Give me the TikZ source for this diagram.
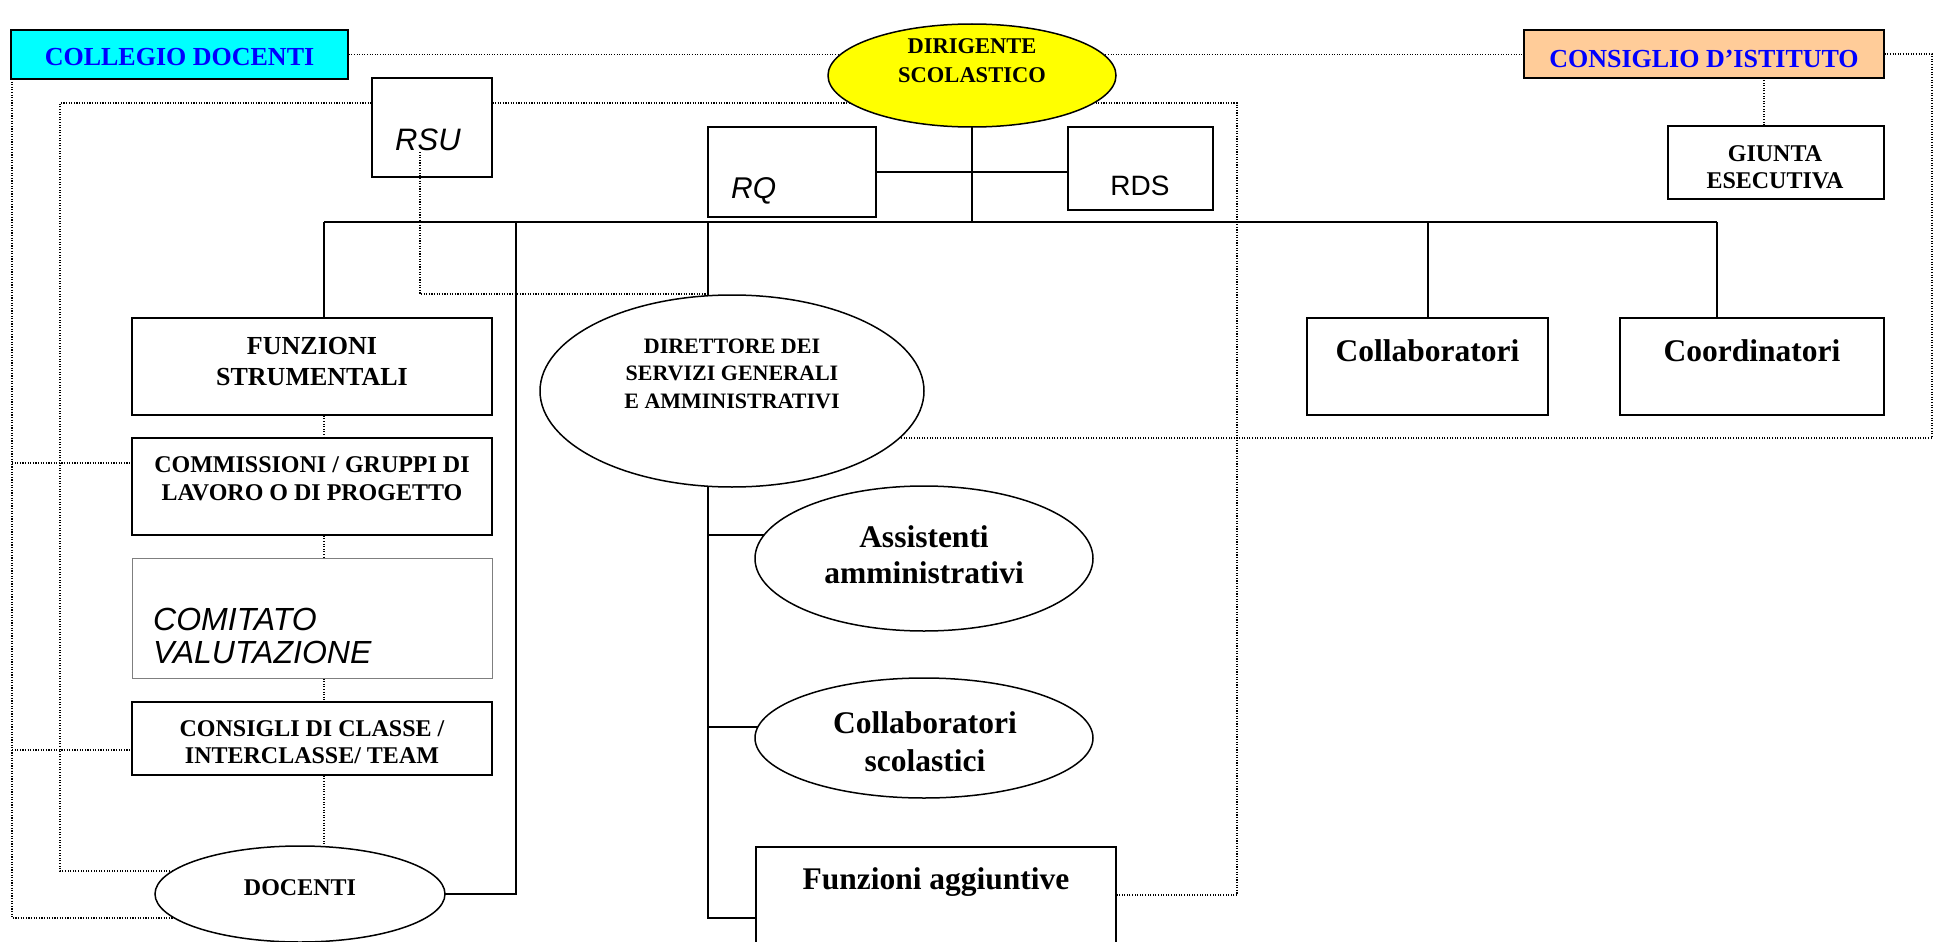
\documentclass[tikz,border=0pt]{standalone}
\usepackage{fontspec}
\setmainfont{Liberation Serif}
\newfontfamily\arialf{Liberation Sans}
\usetikzlibrary{shapes.geometric,backgrounds}
\definecolor{cyanbox}{HTML}{00FFFF}
\definecolor{peach}{HTML}{FFCC99}
\definecolor{ylw}{HTML}{FFFF00}
\definecolor{bluetxt}{HTML}{0000FF}
\definecolor{grayedge}{HTML}{7F7F7F}
\begin{document}
\begin{tikzpicture}[x=1pt,y=-1pt,
  box/.style={draw, line width=1.5pt, fill=white, rectangle, inner sep=0pt},
  ell/.style={draw, line width=1.5pt, fill=white, ellipse, inner sep=0pt},
  con/.style={line width=1.5pt},
  dot/.style={line width=1.1pt, dash pattern=on 1.1pt off 1.5pt},
  tb/.style 2 args={font=\bfseries\fontsize{#1}{#2}\selectfont, inner sep=0pt, align=center},
  ta/.style 2 args={font=\arialf\fontsize{#1}{#2}\selectfont, inner sep=0pt, align=left},
  ti/.style 2 args={font=\arialf\itshape\fontsize{#1}{#2}\selectfont, inner sep=0pt, align=left},
]
\begin{pgfonlayer}{background}
\fill[white] (0,0) rectangle (1939,942);
\end{pgfonlayer}
\useasboundingbox (0,0) rectangle (1939,942);

% top row (text nodes: anchor=base sits on the LAST line's baseline)
\node[box, fill=cyanbox, minimum width=337pt, minimum height=49pt] (coll) at (179.5,54.5) {};
\node[tb={26}{31}, text=bluetxt, anchor=base] (collT) at (179.5,66) {COLLEGIO DOCENTI};
\node[box, fill=peach, minimum width=360pt, minimum height=48pt] (cons) at (1704,54) {};
\node[tb={26}{31}, text=bluetxt, anchor=base] (consT) at (1704,67) {CONSIGLIO D’ISTITUTO};
\node[ell, fill=ylw, minimum width=288pt, minimum height=103pt] (dir) at (972,75.5) {};
\node[tb={22.5}{29}, anchor=base] (dirT) at (972,83) {DIRIGENTE\\SCOLASTICO};
\node[box, minimum width=216pt, minimum height=73pt] (giu) at (1776,162.5) {};
\node[tb={24}{27}, anchor=base] (giuT) at (1775,188) {GIUNTA\\ESECUTIVA};

\node[box, minimum width=120pt, minimum height=99pt] (rsu) at (432,127.5) {};
\node[ti={31}{37}, anchor=base west] (rsuT) at (395,150) {RSU};
\node[box, minimum width=168pt, minimum height=90pt] (rq) at (792,172) {};
\node[ti={30}{36}, anchor=base west] (rqT) at (731,198) {RQ};
\node[box, minimum width=145pt, minimum height=83pt] (rds) at (1140.5,168.5) {};
\node[ta={28}{34}, anchor=base] (rdsT) at (1140,195) {RDS};

% left column
\node[box, minimum width=360pt, minimum height=97pt] (funz) at (312,366.5) {};
\node[tb={26}{31}, anchor=base] (funzT) at (312,385) {FUNZIONI\\STRUMENTALI};
\node[box, minimum width=360pt, minimum height=97pt] (comm) at (312,486.5) {};
\node[tb={24}{28}, anchor=base] (commT) at (312,500) {COMMISSIONI / GRUPPI DI\\LAVORO O DI PROGETTO};
\node[box, draw=grayedge, line width=1pt, minimum width=360pt, minimum height=120pt] (comit) at (312,618) {};
\node[ti={32}{33}, anchor=base west] (comitT) at (153,663) {COMITATO\\VALUTAZIONE};
\node[box, minimum width=360pt, minimum height=73pt] (consc) at (312,738.5) {};
\node[tb={24}{27}, anchor=base] (conscT) at (312,763) {CONSIGLI DI CLASSE /\\INTERCLASSE/ TEAM};
\node[ell, minimum width=290pt, minimum height=96pt] (doc) at (300,894) {};
\node[tb={24}{28}, anchor=base] (docT) at (300,895) {DOCENTI};

% middle column
\node[ell, minimum width=384pt, minimum height=192pt] (dsga) at (732,391) {};
\node[tb={22}{27.5}, anchor=base] (dsgaT) at (732,408) {DIRETTORE DEI\\SERVIZI GENERALI\\E AMMINISTRATIVI};
\node[ell, minimum width=338pt, minimum height=145pt] (ass) at (924,558.5) {};
\node[tb={31.5}{36}, anchor=base] (assT) at (924,583) {Assistenti\\amministrativi};
\node[ell, minimum width=338pt, minimum height=120pt] (csc) at (924,738) {};
\node[tb={31.5}{38}, anchor=base] (cscT) at (925,771) {Collaboratori\\scolastici};
\node[box, minimum width=360pt, minimum height=100pt] (fag) at (936,897) {};
\node[tb={31.5}{36}, anchor=base] (fagT) at (936,889) {Funzioni aggiuntive};

% right column
\node[box, minimum width=241pt, minimum height=97pt] (colb) at (1427.5,366.5) {};
\node[tb={31.5}{36}, anchor=base] (colbT) at (1427.5,361) {Collaboratori};
\node[box, minimum width=264pt, minimum height=97pt] (coor) at (1752,366.5) {};
\node[tb={31.5}{36}, anchor=base] (coorT) at (1752,361) {Coordinatori};

% junction coordinates
\coordinate (busL) at (324,222);
\coordinate (busR) at (1717,222);
\coordinate (docUp) at (516,222);
\coordinate (trT) at (708,222);
\coordinate (trB) at (708,918);
\coordinate (asJ) at (708,535);
\coordinate (csJ) at (708,727);
\coordinate (colJ) at (1428,222);
\coordinate (rA) at (1932,54);
\coordinate (rB) at (1932,438);
\coordinate (oA) at (12,79);
\coordinate (oB) at (12,918);
\coordinate (oC) at (12,463);
\coordinate (oD) at (12,750);
\coordinate (iA) at (60,871);
\coordinate (iB) at (60,103);
\coordinate (iC) at (1237,103);
\coordinate (iD) at (1237,895);
\coordinate (rsuS) at (420,152);
\coordinate (rsuC) at (420,294);

\begin{pgfonlayer}{background}
% solid connectors
\draw[con] (busL) -- (busR);
\draw[con] (dir.center) -- (dir.center |- busL);
\draw[con] (rq.east) -- (rq.east -| rds.west);
\draw[con] (busL) -- (busL |- funz.north);
\draw[con] (doc.center) -| (docUp);
\draw[con] (trT) -- (trB) -- (trB -| fag.west);
\draw[con] (asJ) -- (asJ -| ass.center);
\draw[con] (csJ) -- (csJ -| csc.center);
\draw[con] (colJ) -- (colJ |- colb.north);
\draw[con] (busR) -- (busR |- coor.north);
% dotted connectors
\draw[dot] (coll.east) -- (coll.east -| cons.west);
\draw[dot] (cons.east) -- (rA) -- (rB) -- (rB -| dsga.center);
\draw[dot] ([xshift=-12pt]giu.north) -- ([xshift=-12pt]giu.north |- cons.south);
\draw[dot] (oA) -- (oB) -- (oB -| doc.center);
\draw[dot] (oC) -- (oC -| comm.west);
\draw[dot] (oD) -- (oD -| consc.west);
\draw[dot] (iA -| doc.center) -- (iA) -- (iB) -- (iC) -- (iD) -- (iD -| fag.east);
\draw[dot] (funz.south -| busL) -- (comm.north -| busL);
\draw[dot] (comm.south -| busL) -- (comit.north -| busL);
\draw[dot] (comit.south -| busL) -- (consc.north -| busL);
\draw[dot] (consc.south -| busL) -- (busL |- doc.center);
\end{pgfonlayer}
\draw[dot] (rsuS) -- (rsuC) -- (rsuC -| trT);
\end{tikzpicture}
\end{document}
